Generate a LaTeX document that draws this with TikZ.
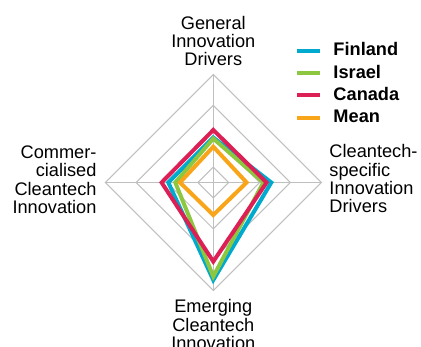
\documentclass[tikz,border=0pt]{standalone}
\usepackage{fontspec}
\setmainfont{Liberation Sans}
\definecolor{finblue}{HTML}{00A9CE}
\definecolor{isrgreen}{HTML}{8DC63F}
\definecolor{canred}{HTML}{DC1F54}
\definecolor{meanorange}{HTML}{F9A51A}
\definecolor{gridgray}{HTML}{BFBFBF}

\begin{document}
\begin{tikzpicture}[x=1pt,y=1pt]
    \tikzstyle{every node}=[inner sep=0pt,font=\fontsize{18.2}{18.3}\selectfont]
    \tikzstyle{grid}=[draw=gridgray,line width=1pt]
    \tikzstyle{series}=[line width=4pt]
    \useasboundingbox (-213.3,-163.5) rectangle (207.7,182.5);

    % First, the grid: four diamonds and the spokes
    \coordinate (c) at (0,0);
    \draw[grid] (c) -- (90:108) coordinate (gen);
    \draw[grid] (c) -- (0:108) coordinate (cts);
    \draw[grid] (c) -- (270:108) coordinate (emg);
    \draw[grid] (c) -- (180:108) coordinate (com);
    \draw[grid] (90:15.4) -- (0:15.4) -- (270:15.4) -- (180:15.4) -- cycle;
    \draw[grid] (90:46.3) -- (0:46.3) -- (270:46.3) -- (180:46.3) -- cycle;
    \draw[grid] (90:77.1) -- (0:77.1) -- (270:77.1) -- (180:77.1) -- cycle;
    \draw[grid] (gen) -- (cts) -- (emg) -- (com) -- cycle;

    % Now the four countries (and the mean) on top of it
    \draw[series,finblue] (90:45) coordinate (fin1) -- (0:58) coordinate (fin2)
        -- (270:97.5) coordinate (fin3) -- (180:45) coordinate (fin4) -- cycle;
    \draw[series,isrgreen] (90:44) coordinate (isr1) -- (0:50) coordinate (isr2)
        -- (270:94) coordinate (isr3) -- (180:38) coordinate (isr4) -- cycle;
    \draw[series,canred] (90:52.5) coordinate (can1) -- (0:53.3) coordinate (can2)
        -- (270:79) coordinate (can3) -- (180:51.7) coordinate (can4) -- cycle;
    \draw[series,meanorange] (90:35.8) coordinate (mean1) -- (0:33.3) coordinate (mean2)
        -- (270:32.5) coordinate (mean3) -- (180:33.3) coordinate (mean4) -- cycle;

    % Axis labels (base is the last line here)
    \node (genlab) at (0,116.8) [anchor=base,align=center]
        {General\\Innovation\\Drivers};
    \node (ctslab) at (116,-30.3) [anchor=base west,align=left]
        {Cleantech-\\specific\\Innovation\\Drivers};
    \node (emglab) at (0,-166.8) [anchor=base,align=center]
        {Emerging\\Cleantech\\Innovation};
    \node (comlab) at (-116.6,-30.8) [anchor=base east,align=right]
        {Commer-\\cialised\\Cleantech\\Innovation};

    % And the legend
    \draw[series,finblue] (84,131.8) coordinate (fina) -- (106.7,131.8) coordinate (finb);
    \draw[series,isrgreen] (84,109.5) coordinate (isra) -- (106.7,109.5) coordinate (isrb);
    \draw[series,canred] (84,87.2) coordinate (cana) -- (106.7,87.2) coordinate (canb);
    \draw[series,meanorange] (84,64.9) coordinate (meana) -- (106.7,64.9) coordinate (meanb);
    \node (finkey) at (120,126.8) [anchor=base west] {\textbf{Finland}};
    \node (isrkey) at (120,104.5) [anchor=base west] {\textbf{Israel}};
    \node (cankey) at (120,82.2) [anchor=base west] {\textbf{Canada}};
    \node (meankey) at (120,59.9) [anchor=base west] {\textbf{Mean}};
\end{tikzpicture}
\end{document}
